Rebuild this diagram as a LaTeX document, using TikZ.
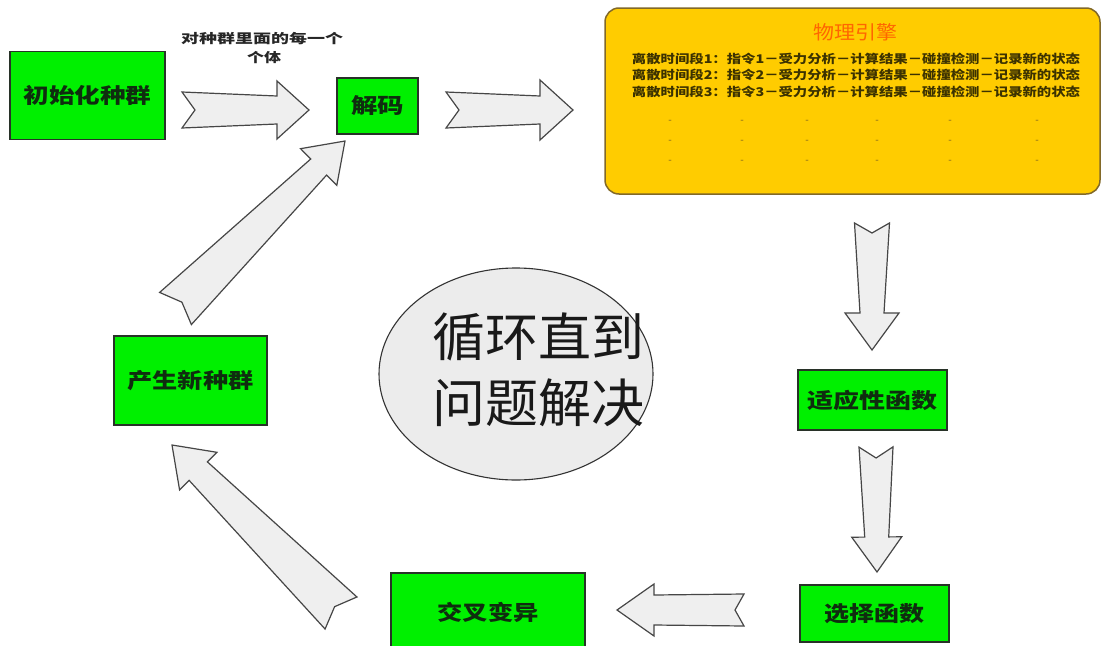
\documentclass[tikz,border=0pt]{standalone}
\usepackage{fontspec}
\usepackage{graphicx}
\usetikzlibrary{calc,shapes.geometric}
\newfontfamily\cjk{Noto Sans CJK SC}
\definecolor{boxgreen}{RGB}{0,240,0}
\definecolor{boxline}{RGB}{40,50,40}
\definecolor{boxtext}{RGB}{15,45,15}
\definecolor{arrowfill}{RGB}{239,239,239}
\definecolor{arrowline}{RGB}{70,70,70}
\definecolor{engfill}{RGB}{255,204,0}
\definecolor{engline}{RGB}{130,105,40}
\definecolor{engtitle}{RGB}{255,102,0}
\definecolor{engtext}{RGB}{60,50,0}
\definecolor{engdot}{RGB}{125,100,30}
\definecolor{ellfill}{RGB}{236,236,236}
\newcommand\fitw[2]{\resizebox{#1pt}{\height}{#2}}
\newcommand\blockarrow[7]{%
  \path let \p1=($(#2)-(#1)$) in \pgfextra{%
    \pgfmathparse{atan2(\y1,\x1)}\xdef\baang{\pgfmathresult}%
    \pgfmathparse{veclen(\x1,\y1)}\xdef\balen{\pgfmathresult}};
  \begin{scope}[shift={(#1)},rotate=\baang]
    \draw[barrowstyle] (0,#3) -- (\balen-#6,#4) -- (\balen-#6,#5) -- (\balen,0)
      -- (\balen-#6,-#5) -- (\balen-#6,-#4) -- (0,-#3) -- (#7,0) -- cycle;
  \end{scope}}
\begin{document}
\begin{tikzpicture}[x=1pt,y=-1pt,
  greenbox/.style={draw=boxline, line width=1.6, fill=boxgreen, inner sep=0,
    font=\cjk\bfseries\fontsize{21}{21}\selectfont, text=boxtext},
  barrowstyle/.style={draw=arrowline, fill=arrowfill, line width=1.2, line join=miter},
  rowtext/.style={font=\cjk\bfseries\fontsize{12}{12}\selectfont, text=engtext, inner sep=0},
  dotmark/.style={font=\cjk\fontsize{10}{10}\selectfont, text=engdot, inner sep=0}]
\useasboundingbox (0,0) rectangle (1102,645);
\fill[white] (0,0) rectangle (1102,645);
\clip (0,0) rectangle (1102,645);

% boxes
\node[greenbox, minimum width=155, minimum height=88] (init) at (87.5,95.5) {\fitw{128}{初始化种群}};
\node[greenbox, minimum width=81, minimum height=56] (decode) at (377.5,106) {\fitw{53}{解码}};
\node[greenbox, minimum width=149, minimum height=60] (fit) at (872.5,400) {\fitw{130}{适应性函数}};
\node[greenbox, minimum width=149, minimum height=57] (sel) at (874.5,613.5) {\fitw{100}{选择函数}};
\node[greenbox, minimum width=194, minimum height=78] (cross) at (488,612) {\fitw{101}{交叉变异}};
\node[greenbox, minimum width=153, minimum height=89] (newpop) at (190.5,380.5) {\fitw{126}{产生新种群}};

% label above first arrow
\node[font=\cjk\bfseries\fontsize{13}{13}\selectfont, text=black!85, inner sep=0] (lab1) at (262,39) {\fitw{162}{对种群里面的每一个}};
\node[font=\cjk\bfseries\fontsize{13}{13}\selectfont, text=black!85, inner sep=0] (lab2) at (264,58) {\fitw{34}{个体}};

% physics engine box
\node[draw=engline, line width=1.5, fill=engfill, rounded corners=14, minimum width=495, minimum height=186, inner sep=0] (engine) at (852.5,101) {};
\node[font=\cjk\fontsize{19}{19}\selectfont, text=engtitle, inner sep=0] (engtitle) at (855,32) {\fitw{84}{物理引擎}};
\node[rowtext] (row1) at (856,58.5) {\fitw{448}{离散时间段1：指令1－受力分析－计算结果－碰撞检测－记录新的状态}};
\node[rowtext] (row2) at (856,75) {\fitw{448}{离散时间段2：指令2－受力分析－计算结果－碰撞检测－记录新的状态}};
\node[rowtext] (row3) at (856,91.5) {\fitw{448}{离散时间段3：指令3－受力分析－计算结果－碰撞检测－记录新的状态}};
\foreach \cx [count=\i] in {670,742,807,877,950,1037}
  \foreach \cy [count=\j] in {122,142,162}
    \node[dotmark] (dot-\i-\j) at (\cx,\cy) {-};

% central ellipse
\node[ellipse, draw=black!80, line width=1.1, fill=ellfill, minimum width=274, minimum height=212, inner sep=0] (loop) at (516,374) {};
\node[font=\cjk\fontsize{52}{66}\selectfont, text=black!90, align=center, inner sep=0] (looptext) at (538,370)
  {\fitw{212}{循环直到}\\\fitw{212}{问题解决}};

% arrow end points
\coordinate (a1s) at (182,110);   \coordinate (a1e) at (309,110);
\coordinate (a2s) at (446,110);   \coordinate (a2e) at (573,110);
\coordinate (d1s) at (872,223);   \coordinate (d1e) at (872,350);
\coordinate (d2s) at (876,447);   \coordinate (d2e) at (877,572);
\coordinate (l1s) at (744,610);   \coordinate (l1e) at (617,610);
\coordinate (lws) at (341,613);   \coordinate (lwe) at (172,445);
\coordinate (ups) at (175.5,308.5); \coordinate (upe) at (345,141);

\blockarrow{a1s}{a1e}{18}{14}{29}{32}{13}
\blockarrow{a2s}{a2e}{18}{14}{30}{33}{13}
\blockarrow{d1s}{d1e}{17.5}{12}{27}{37}{10}
\blockarrow{d2s}{d2e}{17}{12}{25}{35}{11}
\blockarrow{l1s}{l1e}{16}{15}{26}{37}{9}
\blockarrow{lws}{lwe}{22.6}{13}{26.5}{37}{9}
\blockarrow{ups}{upe}{22.6}{11.3}{25.8}{37}{9}
\end{tikzpicture}
\end{document}
